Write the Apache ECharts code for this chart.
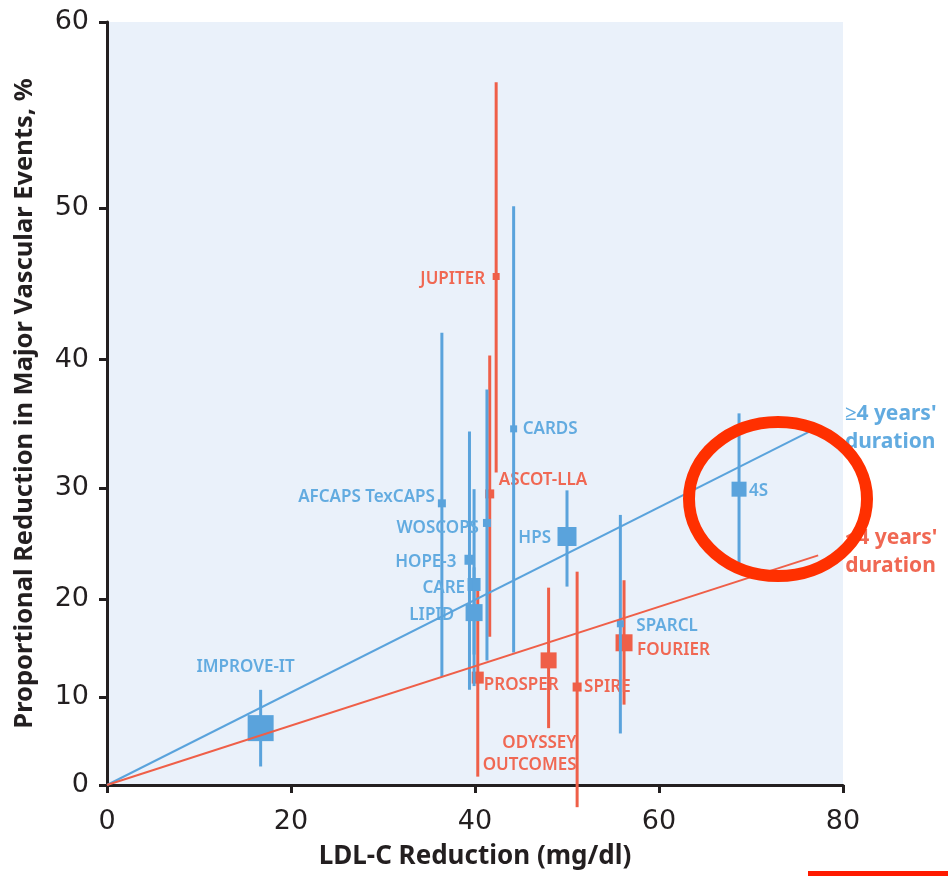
<!DOCTYPE html>
<html>
<head>
<meta charset="utf-8">
<script src="https://cdn.jsdelivr.net/npm/echarts@6/dist/echarts.min.js"></script>
<style>
html,body{margin:0;padding:0;background:#fff;}
#chart{width:948px;height:876px;}
</style>
</head>
<body>
<div id="chart"></div>
<script>
// ---------- DATA ----------
const xTicks = [0, 20, 40, 60, 80];
const yTicks = [0, 10, 20, 30, 40, 50, 60];

// >=4 years' duration trials (blue)
const blueStudies   = ['IMPROVE-IT', 'AFCAPS TexCAPS', 'WOSCOPS', 'HOPE-3', 'CARE', 'LIPID', 'CARDS', 'HPS', 'SPARCL', '4S'];
const blueLdl       = [16.7, 36.4, 41.3, 39.4, 39.9, 39.9, 44.2, 50.0, 55.8, 68.7];
const blueReduction = [6.6, 28.7, 27.0, 23.7, 21.4, 18.7, 34.8, 25.8, 17.6, 29.9];
const blueLower     = [2.2, 12.2, 13.9, 10.8, 11.2, 14.5, 14.7, 21.2, 6.0, 23.4];
const blueUpper     = [10.8, 41.9, 37.8, 34.6, 29.9, 23.0, 50.1, 29.8, 27.7, 36.0];

// <4 years' duration trials (red)
const redStudies   = ['JUPITER', 'ASCOT-LLA', 'PROSPER', 'ODYSSEY OUTCOMES', 'SPIRE', 'FOURIER'];
const redLdl       = [42.3, 41.6, 40.3, 48.0, 51.1, 56.2];
const redReduction = [45.7, 29.5, 12.1, 13.9, 11.1, 15.7];
const redLower     = [31.3, 16.3, 1.0, 6.6, -2.7, 9.2];
const redUpper     = [57.0, 40.3, 20.9, 21.1, 22.6, 21.8];

// regression lines (LDL-C reduction, % reduction)
const blueFitX = [0, 76.4];
const blueFitY = [0, 34.6];
const redFitX  = [0, 77.3];
const redFitY  = [0, 24.1];

// ---------- STYLE ----------
const BLUE = '#5aa3dc', BLUE_TXT = '#62abe0';
const RED = '#ef5f48', RED_TXT = '#f06853';
const INK = '#231f20';
const markerSize = {
  'IMPROVE-IT': 26, 'AFCAPS TexCAPS': 8, 'WOSCOPS': 8, 'HOPE-3': 10, 'CARE': 13, 'LIPID': 17,
  'CARDS': 7, 'HPS': 19, 'SPARCL': 7, '4S': 15,
  'JUPITER': 7, 'ASCOT-LLA': 9, 'PROSPER': 12, 'ODYSSEY OUTCOMES': 16, 'SPIRE': 9, 'FOURIER': 17
};
const labelLayout = {
  'IMPROVE-IT': {dx: -15, dy: -61, align: 'center'},
  'AFCAPS TexCAPS': {dx: -7, dy: -6, align: 'right'},
  'WOSCOPS': {dx: -8, dy: 5, align: 'right'},
  'HOPE-3': {dx: -13, dy: 2, align: 'right'},
  'CARE': {dx: -9, dy: 4, align: 'right'},
  'LIPID': {dx: -20, dy: 3, align: 'right'},
  'CARDS': {dx: 9, dy: 0, align: 'left'},
  'HPS': {dx: -16, dy: 2, align: 'right'},
  'SPARCL': {dx: 16, dy: 2, align: 'left'},
  '4S': {dx: 10, dy: 2, align: 'left'},
  'JUPITER': {dx: -11, dy: 3, align: 'right'},
  'ASCOT-LLA': {dx: 9, dy: -14, align: 'left'},
  'PROSPER': {dx: 6, dy: 8, align: 'left'},
  'ODYSSEY OUTCOMES': {dx: 28, dy: 94, align: 'right', text: 'ODYSSEY\nOUTCOMES'},
  'SPIRE': {dx: 7, dy: 0, align: 'left'},
  'FOURIER': {dx: 13, dy: 7, align: 'left'}
};

// y axis is on a log relative-risk scale: position = -ln(1 - reduction)
const fy = r => -Math.log(1 - r / 100);
const invFy = v => 100 * (1 - Math.exp(-v));

function studyData(names, xs, ys, los, his) {
  return names.map((n, i) => ({ name: n, value: [xs[i], fy(ys[i]), fy(los[i]), fy(his[i])] }));
}

function makeRender(names, lineColor, txtColor) {
  return function (params, api) {
    const name = names[params.dataIndex];
    const x = api.value(0);
    const pc = api.coord([x, api.value(1)]);
    const pl = api.coord([x, api.value(2)]);
    const ph = api.coord([x, api.value(3)]);
    const s = markerSize[name];
    const lab = labelLayout[name];
    return {
      type: 'group',
      children: [
        { type: 'line', shape: { x1: pc[0], y1: pl[1], x2: pc[0], y2: ph[1] },
          style: { stroke: lineColor, lineWidth: 3 } },
        { type: 'rect', shape: { x: pc[0] - s / 2, y: pc[1] - s / 2, width: s, height: s },
          style: { fill: lineColor } },
        { type: 'text', z2: 50,
          style: { text: lab.text || name, x: pc[0] + lab.dx, y: pc[1] + lab.dy,
                   align: lab.align, verticalAlign: 'middle', fill: txtColor,
                   font: '600 17px "Noto Sans"', lineHeight: 22 } }
      ]
    };
  };
}

function annotRender(text, color, dx, dy) {
  return function (params, api) {
    const p = api.coord([api.value(0), api.value(1)]);
    return { type: 'text', style: { text: text, x: p[0] + dx, y: p[1] + dy, align: 'left',
      verticalAlign: 'middle', fill: color, font: 'bold 21px "Noto Sans"', lineHeight: 28 } };
  };
}

const chart = echarts.init(document.getElementById('chart'), null, { renderer: 'canvas' });
chart.setOption({
  animation: false,
  backgroundColor: '#ffffff',
  grid: { left: 107, right: 105, top: 22, bottom: 91, show: true, backgroundColor: '#eaf1fa', borderWidth: 0 },
  xAxis: {
    type: 'value', min: xTicks[0], max: xTicks[xTicks.length - 1], interval: 20,
    name: 'LDL-C Reduction (mg/dl)', nameLocation: 'middle', nameGap: 59,
    nameTextStyle: { fontFamily: 'Noto Sans', fontWeight: 'bold', fontSize: 26, color: INK },
    axisLine: { show: true, onZero: false, lineStyle: { color: INK, width: 3 } },
    axisTick: { show: true, length: 8, lineStyle: { color: INK, width: 3 } },
    axisLabel: { margin: 23, fontFamily: 'DejaVu Sans', fontSize: 27, color: INK },
    splitLine: { show: false }
  },
  yAxis: {
    type: 'value', min: fy(yTicks[0]), max: fy(yTicks[yTicks.length - 1]),
    name: 'Proportional Reduction in Major Vascular Events, %', nameLocation: 'middle', nameGap: 69,
    nameTextStyle: { fontFamily: 'Noto Sans', fontWeight: 'bold', fontSize: 25.5, color: INK },
    axisLine: { show: true, onZero: false, lineStyle: { color: INK, width: 3 } },
    axisTick: { show: true, length: 8, lineStyle: { color: INK, width: 3 }, customValues: yTicks.map(fy) },
    axisLabel: { margin: 18, fontFamily: 'DejaVu Sans', fontSize: 27, color: INK,
      customValues: yTicks.map(fy), formatter: v => String(Math.round(invFy(v))) },
    splitLine: { show: false }
  },
  series: [
    { type: 'custom', name: 'red', clip: false, z: 3,
      data: studyData(redStudies, redLdl, redReduction, redLower, redUpper),
      renderItem: makeRender(redStudies, RED, RED_TXT) },
    { type: 'custom', name: 'blue', clip: false, z: 4,
      data: studyData(blueStudies, blueLdl, blueReduction, blueLower, blueUpper),
      renderItem: makeRender(blueStudies, BLUE, BLUE_TXT) },
    { type: 'line', z: 5, symbol: 'none', lineStyle: { color: BLUE, width: 2 },
      data: blueFitX.map((x, i) => [x, fy(blueFitY[i])]) },
    { type: 'line', z: 5, symbol: 'none', lineStyle: { color: RED, width: 2 },
      data: redFitX.map((x, i) => [x, fy(redFitY[i])]) },
    { type: 'custom', z: 6, clip: false,
      data: [[blueFitX[1], fy(blueFitY[1])]],
      renderItem: annotRender("\u22654 years'\nduration", BLUE_TXT, 35, -3) },
    { type: 'custom', z: 6, clip: false,
      data: [[redFitX[1], fy(redFitY[1])]],
      renderItem: annotRender("<4 years'\nduration", RED_TXT, 27, -3) }
  ],
  graphic: [
    { type: 'ellipse', z: 100, shape: { cx: 778, cy: 499, rx: 89, ry: 77 },
      style: { fill: 'none', stroke: '#ff3000', lineWidth: 12 } },
    { type: 'rect', z: 100, shape: { x: 808, y: 871, width: 140, height: 5 },
      style: { fill: '#ff1a00' } }
  ]
});
</script>
</body>
</html>
